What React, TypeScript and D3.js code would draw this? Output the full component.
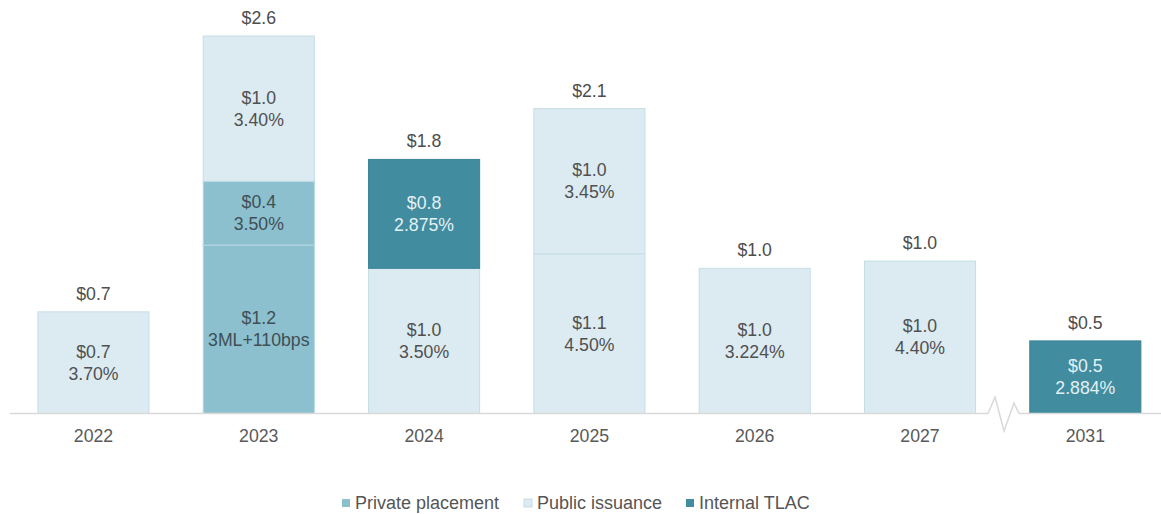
import React from 'react';
import * as d3 from 'd3';

const years = ['2022', '2023', '2024', '2025', '2026', '2027', '2031'];
const totalLabels = ['$0.7', '$2.6', '$1.8', '$2.1', '$1.0', '$1.0', '$0.5'];

const segYear = ['2022', '2023', '2023', '2023', '2024', '2024', '2025', '2025', '2026', '2027', '2031'];
const segType = ['public', 'private', 'private', 'public', 'public', 'tlac', 'public', 'public', 'public', 'public', 'tlac'];
const segValue = [0.7, 1.16, 0.44, 1.0, 1.0, 0.75, 1.1, 1.0, 1.0, 1.05, 0.5];
const segAmount = ['$0.7', '$1.2', '$0.4', '$1.0', '$1.0', '$0.8', '$1.1', '$1.0', '$1.0', '$1.0', '$0.5'];
const segRate = ['3.70%', '3ML+110bps', '3.50%', '3.40%', '3.50%', '2.875%', '4.50%', '3.45%', '3.224%', '4.40%', '2.884%'];

const legendKeys = ['private', 'public', 'tlac'];
const legendNames = ['Private placement', 'Public issuance', 'Internal TLAC'];

const fills: Record<string, string> = { public: '#dcebf1', private: '#8cc0cf', tlac: '#418c9f' };
const strokes: Record<string, string> = { public: '#c6dde6', private: '#b3d7e1', tlac: '#3a8498' };
const textColors: Record<string, string> = { public: '#505050', private: '#3f4f55', tlac: '#e4f1f5' };

const W = 1161;
const H = 514;
const baseY = 413.5;
const font = '"Liberation Sans", Arial, sans-serif';
const fs = 17.7;

export default function App() {
  const x = d3.scaleBand<string>().domain(years).range([10, 1168.8]).paddingInner(0.328).paddingOuter(0.169);
  const y = d3.scaleLinear().domain([0, 2.6]).range([baseY, 36]);

  const cum: Record<string, number> = {};
  const segs = segYear.map((yr, i) => {
    const y0 = cum[yr] || 0;
    const y1 = y0 + segValue[i];
    cum[yr] = y1;
    return { yr, type: segType[i], y0, y1, amount: segAmount[i], rate: segRate[i] };
  });

  const legendX = [342, 524, 686];

  const zig = d3.line()([
    [988, baseY], [995, 397], [1004, 431], [1014, 403], [1019, baseY],
  ]);

  return (
    <svg width={W} height={H} style={{ position: 'absolute', left: 0, top: 0, background: '#fff' }}
      fontFamily={font}>
      {segs.map((s, i) => {
        const x0 = x(s.yr)!;
        const top = y(s.y1);
        const bot = y(s.y0);
        const cx = x0 + x.bandwidth() / 2;
        const cy = (top + bot) / 2;
        return (
          <g key={i}>
            <rect x={x0} y={top} width={x.bandwidth()} height={bot - top}
              fill={fills[s.type]} stroke={strokes[s.type]} strokeWidth={1} />
            <text x={cx} y={cy - 11} textAnchor="middle" dominantBaseline="central"
              fontSize={fs} fill={textColors[s.type]}>{s.amount}</text>
            <text x={cx} y={cy + 11} textAnchor="middle" dominantBaseline="central"
              fontSize={fs} fill={textColors[s.type]}>{s.rate}</text>
          </g>
        );
      })}
      <line x1={10} x2={988} y1={baseY} y2={baseY} stroke="#d9d9d9" strokeWidth={1.5} />
      <path d={zig || ''} fill="none" stroke="#d9d9d9" strokeWidth={1.5} />
      <line x1={1019} x2={W} y1={baseY} y2={baseY} stroke="#d9d9d9" strokeWidth={1.5} />
      {years.map((yr, i) => {
        const cx = x(yr)! + x.bandwidth() / 2;
        return (
          <g key={yr}>
            <text x={cx} y={y(cum[yr]) - 18} textAnchor="middle" dominantBaseline="central"
              fontSize={fs} fill="#4d4d4d">{totalLabels[i]}</text>
            <text x={cx} y={436} textAnchor="middle" dominantBaseline="central"
              fontSize={fs} fill="#595959">{yr}</text>
          </g>
        );
      })}
      {legendKeys.map((k, i) => (
        <g key={k}>
          <rect x={legendX[i]} y={499} width={8} height={8} fill={fills[k]} stroke={k === 'public' ? strokes[k] : 'none'} />
          <text x={legendX[i] + 13} y={503} dominantBaseline="central" fontSize={18} fill="#555">{legendNames[i]}</text>
        </g>
      ))}
    </svg>
  );
}
